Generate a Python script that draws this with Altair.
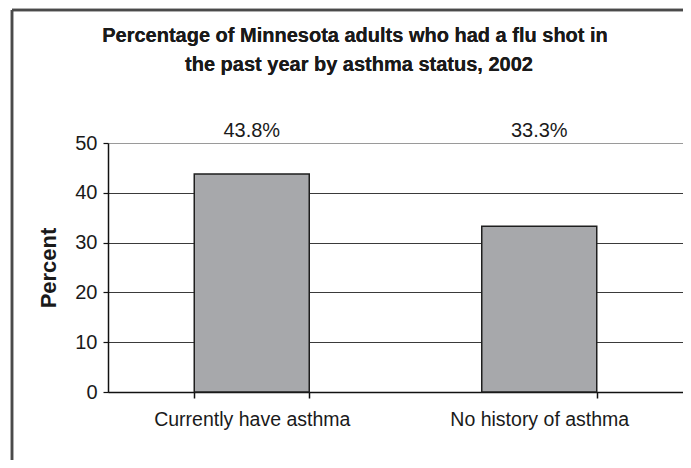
import altair as alt
import pandas as pd

categories = ["Currently have asthma", "No history of asthma"]
values = [43.8, 33.3]
value_labels = ["43.8%", "33.3%"]
y_ticks = [0, 10, 20, 30, 40, 50]
title_lines = ["Percentage of Minnesota adults who had a flu shot in",
               "the past year by asthma status, 2002"]

df = pd.DataFrame({"status": categories, "pct": values, "label": value_labels})

FONT = "Liberation Sans"

x_enc = alt.X(
    "status:N",
    sort=categories,
    scale=alt.Scale(paddingInner=0.6, paddingOuter=0.3),
    axis=alt.Axis(
        title=None, labelAngle=0, labelFontSize=19.5, labelFont=FONT, labelColor="#1a1a1a",
        labelLimit=400,
        domainColor="#111111", domainWidth=1.5, tickColor="#111111", tickWidth=1.5,
        tickSize=6, tickBand="extent", labelPadding=12, grid=False,
    ),
)

bars = alt.Chart(df).mark_bar(
    fill="#a7a8ab", stroke="#1e1e1e", strokeWidth=1.5
).encode(
    x=x_enc,
    y=alt.Y(
        "pct:Q",
        scale=alt.Scale(domain=[0, 50]),
        axis=alt.Axis(
            values=y_ticks, title="Percent", titleFont=FONT, titleFontSize=22,
            titleFontWeight="bold", titleColor="#1a1a1a", titlePadding=14,
            labelFont=FONT, labelFontSize=20, labelColor="#1a1a1a", labelPadding=6,
            domainColor="#111111", domainWidth=1.5, tickColor="#111111", tickWidth=1.2,
            tickSize=5,
            gridColor={"condition": {"test": "datum.value === 50", "value": "#9a9a9a"},
                       "value": "#3a3a3a"},
            gridWidth=1,
        ),
    ),
)

texts = alt.Chart(df).mark_text(
    font=FONT, fontSize=20, color="#1a1a1a", baseline="alphabetic", align="center"
).encode(
    x=alt.X("status:N", sort=categories),
    y=alt.value(-6),
    text="label:N",
)

title_style = dict(font=FONT, fontSize=20, fontWeight="bold", color="#1a1a1a",
                   baseline="alphabetic", align="center")
title1 = alt.Chart(df).mark_text(**title_style).encode(
    x=alt.value(247), y=alt.value(-101), text=alt.value(title_lines[0])
)
title2 = alt.Chart(df).mark_text(**title_style).encode(
    x=alt.value(251), y=alt.value(-72), text=alt.value(title_lines[1])
)

border_top = alt.Chart(df).mark_rule(color="#4a4a4a", strokeWidth=2.5).encode(
    x=alt.value(-96), x2=alt.value(700), y=alt.value(-133)
)
border_left = alt.Chart(df).mark_rule(color="#4a4a4a", strokeWidth=2.5).encode(
    x=alt.value(-96), y=alt.value(-133), y2=alt.value(400)
)

chart = alt.layer(bars, texts, title1, title2, border_top, border_left).properties(
    width=575,
    height=249,
    autosize=alt.AutoSizeParams(type="none"),
    padding={"left": 100, "top": 135, "right": 0, "bottom": 68},
).configure_view(
    stroke="#9a9a9a", strokeWidth=1
).configure(background="white")

chart.save("out.html", embed_options={"renderer": "svg", "actions": False})
